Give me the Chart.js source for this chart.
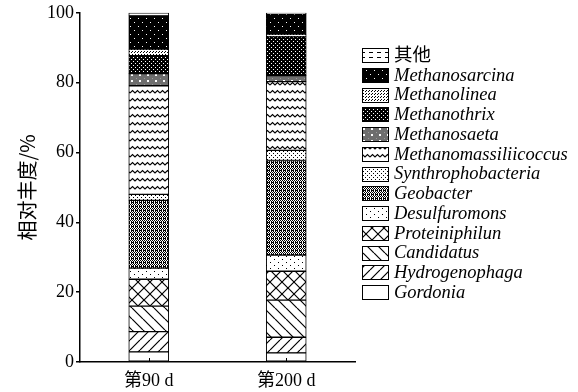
<!DOCTYPE html>
<html>
<head>
<meta charset="utf-8">
<script src="https://cdn.jsdelivr.net/npm/chart.js@4"></script>
<style>
  html, body { margin: 0; padding: 0; background: #fff; }
  #wrap { width: 578px; height: 392px; }
</style>
</head>
<body>
<div id="wrap"><canvas id="c" width="578" height="392"></canvas></div>
<script>
// data, bottom segment first
const days = ['第90 d', '第200 d'];
const taxa = ['Gordonia', 'Hydrogenophaga', 'Candidatus', 'Proteiniphilun', 'Desulfuromons',
  'Geobacter', 'Synthrophobacteria', 'Methanomassiliicoccus', 'Methanosaeta',
  'Methanothrix', 'Methanolinea', 'Methanosarcina', '其他'];
const day90 = [2.9, 5.8, 7.3, 7.7, 3.2, 19.4, 1.7, 31.1, 3.5, 5.1, 1.9, 9.5, 0.9];
const day200 = [2.6, 4.5, 10.6, 8.3, 4.6, 27.1, 2.9, 19.7, 1.7, 11.1, 0.8, 5.8, 0.3];
const yTicks = [0, 20, 40, 60, 80, 100];

const canvas = document.getElementById('c');
const ctx = canvas.getContext('2d');

// small pattern tiles, black & white like the print figure
function tile(w, h, bg, draw) {
  const t = document.createElement('canvas');
  t.width = w; t.height = h;
  const g = t.getContext('2d');
  g.fillStyle = bg;
  g.fillRect(0, 0, w, h);
  g.fillStyle = '#000';
  g.strokeStyle = '#000';
  draw(g, w, h);
  return ctx.createPattern(t, 'repeat');
}
function diag(g, s, dir) {
  g.lineWidth = 1.2;
  g.beginPath();
  for (let k = -1; k <= 1; k++) {
    if (dir > 0) { g.moveTo(k * s, 0); g.lineTo(k * s + s, s); }
    else { g.moveTo(k * s + s, 0); g.lineTo(k * s, s); }
  }
  g.stroke();
}
// pixel map tile: 'X' black, '.' background
function bits(g, rows) {
  rows.forEach((r, y) => { for (let x = 0; x < r.length; x++) if (r[x] === 'X') g.fillRect(x, y, 1, 1); });
}

const fills = {
  'Gordonia': '#fff',
  'Hydrogenophaga': tile(10, 10, '#fff', (g) => diag(g, 10, -1)),
  'Candidatus': tile(11, 11, '#fff', (g) => diag(g, 11, 1)),
  'Proteiniphilun': tile(12, 12, '#fff', (g) => { diag(g, 12, 1); diag(g, 12, -1); }),
  'Desulfuromons': tile(8, 6, '#fff', (g) => { g.fillRect(2, 1, 1, 1); g.fillRect(6, 4, 1, 1); }),
  'Geobacter': tile(4, 4, '#fff', (g) => bits(g, ['X.X.', '.X.X', 'XX.X', '.X.X'])),
  'Synthrophobacteria': tile(4, 4, '#fff', (g) => { g.fillRect(1, 1, 1, 1); g.fillRect(3, 3, 1, 1); }),
  'Methanomassiliicoccus': tile(10, 8, '#fff', (g) => {
    g.lineWidth = 1.1;
    g.beginPath(); g.moveTo(0, 5); g.lineTo(2.5, 2.5); g.lineTo(5, 5); g.lineTo(7.5, 2.5); g.lineTo(10, 5); g.stroke();
  }),
  'Methanosaeta': tile(8, 6, '#6e6e6e', (g) => {
    g.fillStyle = '#999'; g.fillRect(0, 0, 1, 1); g.fillRect(4, 3, 1, 1);
    g.fillStyle = '#fff'; g.fillRect(3, 2, 2, 2);
  }),
  'Methanothrix': tile(4, 4, '#000', (g) => {
    g.fillStyle = '#fff'; g.fillRect(1, 1, 1, 1); g.fillRect(3, 3, 1, 1);
  }),
  'Methanolinea': tile(3, 3, '#fff', (g) => { g.fillRect(0, 0, 1, 1); g.fillRect(2, 1, 1, 1); }),
  'Methanosarcina': tile(8, 8, '#000', (g) => {
    g.fillStyle = '#fff'; g.fillRect(2, 2, 1, 1); g.fillRect(6, 6, 1, 1);
  }),
  '其他': tile(8, 5, '#fff', (g) => { g.fillRect(1, 2, 4, 1); })
};

const datasets = taxa.map((name, i) => ({
  label: name,
  data: [day90[i], day200[i]],
  backgroundColor: fills[name],
  borderColor: '#000',
  borderWidth: 1,
  borderSkipped: false,
  barThickness: 40
}));

const serif = '"Liberation Serif", "Times New Roman", "Noto Sans CJK SC", serif';

// legend, y title and inward x ticks drawn by hand
const extras = {
  id: 'extras',
  afterDraw(chart) {
    const g = chart.ctx;
    const area = chart.chartArea;
    g.save();
    // inward tick at each bar centre
    const xs = chart.scales.x;
    g.strokeStyle = '#000';
    g.lineWidth = 1;
    days.forEach((d, i) => {
      const x = Math.round(xs.getPixelForValue(i)) + 0.5;
      g.beginPath(); g.moveTo(x, area.bottom); g.lineTo(x, area.bottom - 4); g.stroke();
    });
    // y title
    g.fillStyle = '#000';
    g.font = '20px "Noto Sans CJK SC", sans-serif';
    g.textAlign = 'center';
    g.textBaseline = 'middle';
    g.translate(27, (area.top + area.bottom) / 2);
    g.rotate(-Math.PI / 2);
    g.fillText('相对丰度/%', 0, 0);
    g.restore();

    // legend, top of the stack first
    g.save();
    const n = taxa.length;
    for (let j = 0; j < n; j++) {
      const i = n - 1 - j;
      const cy = 55 + j * 19.75;
      g.fillStyle = fills[taxa[i]];
      g.fillRect(362, Math.round(cy - 7), 26, 14);
      g.strokeStyle = '#000';
      g.lineWidth = 1;
      g.strokeRect(362.5, Math.round(cy - 7) + 0.5, 26, 14);
      g.fillStyle = '#000';
      g.textAlign = 'left';
      g.textBaseline = 'middle';
      g.font = (taxa[i] === '其他' ? '' : 'italic ') + '18.5px ' + serif;
      g.fillText(taxa[i], 394, cy + 1);
    }
    g.restore();
  }
};

new Chart(canvas, {
  type: 'bar',
  data: { labels: days, datasets: datasets },
  options: {
    responsive: false,
    animation: false,
    layout: { padding: { top: 12, right: 223, left: 0, bottom: 0 } },
    plugins: { legend: { display: false }, tooltip: { enabled: false } },
    scales: {
      x: {
        stacked: true,
        grid: { display: false },
        border: { color: '#000', width: 1.5 },
        ticks: { color: '#000', padding: 0, font: { family: serif, size: 18 } },
        afterFit(s) { s.height = 30; }
      },
      y: {
        stacked: true,
        min: 0,
        max: 100,
        afterBuildTicks(s) { s.ticks = yTicks.map(v => ({ value: v })); },
        grid: { drawOnChartArea: false, tickLength: 4, color: '#000', lineWidth: 1.5 },
        border: { color: '#000', width: 1.5 },
        ticks: { color: '#000', padding: 2, font: { family: serif, size: 18 } },
        afterFit(s) { s.width = 80; }
      }
    }
  },
  plugins: [extras]
});
</script>
</body>
</html>
